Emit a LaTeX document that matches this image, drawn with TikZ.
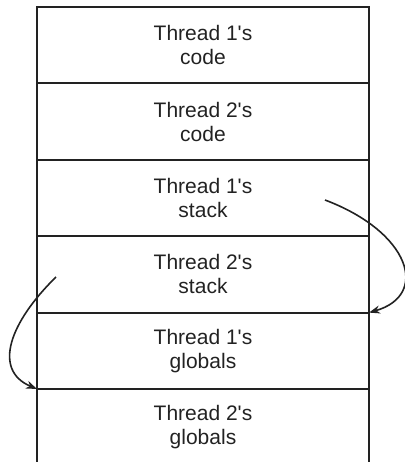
\documentclass[tikz,border=0pt]{standalone}
\usepackage{fontspec}
\setmainfont{Liberation Sans}
\usetikzlibrary{arrows.meta}
\definecolor{ink}{HTML}{222222}
\newcommand\ap{\textquotesingle}
\begin{document}
\begin{tikzpicture}[x=1pt,y=-1pt,
  cell/.style={draw=ink, line width=1.8pt, minimum width=332pt, minimum height=76.4pt,
    inner sep=0pt, outer sep=0pt, align=center, text=ink, font=\fontsize{21}{24}\selectfont, anchor=north west},
  edge/.style={draw=ink, line width=1.8pt},
  flow/.style={draw=ink, line width=1.6pt, -{Stealth[length=11pt,width=8pt]}}]
\useasboundingbox (0,0) rectangle (404,462);
\node[cell] (r1) at (37,7) {Thread 1\ap s\\code};
\node[cell] (r2) at (r1.south west) {Thread 2\ap s\\code};
\node[cell] (r3) at (r2.south west) {Thread 1\ap s\\stack};
\node[cell] (r4) at (r3.south west) {Thread 2\ap s\\stack};
\node[cell] (r5) at (r4.south west) {Thread 1\ap s\\globals};
\node[cell, draw=none] (r6) at (r5.south west) {Thread 2\ap s\\globals};
\draw[edge] (r6.north west) -- ++(0,76);
\draw[edge] (r6.north east) -- ++(0,76);
\coordinate (s1) at (325,200);
\coordinate (s2) at (56,277);
\draw[flow] (s1) .. controls (410,232) and (430,295) .. (r5.north east);
\draw[flow] (s2) .. controls (10,322) and (-8,370) .. (r6.north west);
\end{tikzpicture}
\end{document}
